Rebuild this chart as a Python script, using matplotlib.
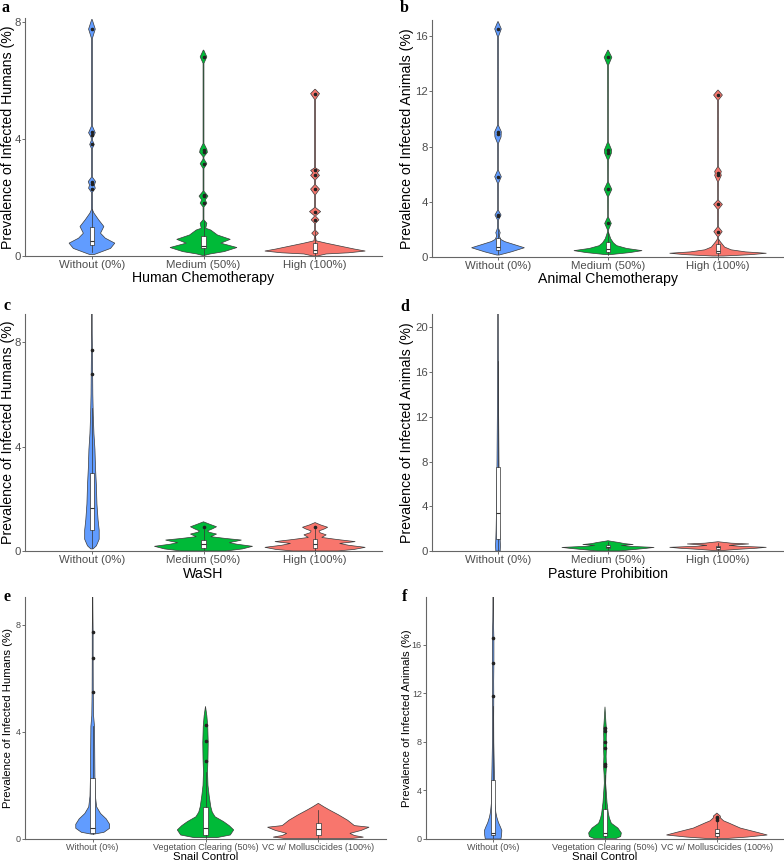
import matplotlib
matplotlib.use('Agg')
import matplotlib.pyplot as plt
import numpy as np

plt.rcParams['font.family'] = ['Liberation Sans', 'DejaVu Sans']

W, H = 784, 861
COLORS = ['#619CFF', '#00BA38', '#F8766D']

# ---- data: violin outlines (value, half-width), box stats, outliers ----
LAB_CHEMO = ['Without (0%)', 'Medium (50%)', 'High (100%)']
LAB_SNAIL = ['Without (0%)', 'Vegetation Clearing (50%)', 'VC w/ Molluscicides (100%)']

A_Y = [[0.05, 0.15, 0.26, 0.44, 0.61, 0.78, 1.01, 1.24, 1.47, 1.58, 2.18, 2.32, 2.43, 2.55, 2.7,
        3.68, 3.82, 3.95, 4.05, 4.22, 4.45, 7.45, 7.77, 8.1],
       [0.02, 0.07, 0.15, 0.29, 0.44, 0.57, 0.72, 0.89, 0.95, 1.12, 1.24, 1.68, 1.81, 1.92, 2.05, 2.22,
        3.0, 3.16, 3.32, 3.4, 3.55, 3.65, 3.85, 6.6, 6.82, 7.05],
       [0.0, 0.07, 0.11, 0.17, 0.24, 0.32, 0.44, 0.52, 0.68, 0.78, 0.88, 1.12, 1.24, 1.36, 1.38, 1.52, 1.66,
        2.1, 2.29, 2.44, 2.61, 2.76, 2.85, 2.93, 3.02, 5.36, 5.56, 5.71]]
A_W = [[0.02, 0.09, 0.167, 0.205, 0.12, 0.077, 0.107, 0.06, 0.018, 0.005, 0.004, 0.03, 0.022, 0.033, 0.004,
        0.004, 0.02, 0.006, 0.006, 0.03, 0.004, 0.004, 0.03, 0.002],
       [0.01, 0.06, 0.185, 0.3, 0.155, 0.24, 0.125, 0.065, 0.02, 0.03, 0.004, 0.004, 0.03, 0.015, 0.04, 0.004,
        0.004, 0.03, 0.004, 0.004, 0.035, 0.03, 0.004, 0.004, 0.03, 0.002],
       [0.02, 0.1, 0.3, 0.45, 0.35, 0.25, 0.1, 0.01, 0.004, 0.03, 0.004, 0.004, 0.035, 0.006, 0.006, 0.05, 0.004,
        0.004, 0.04, 0.004, 0.004, 0.04, 0.02, 0.04, 0.004, 0.004, 0.04, 0.002]]
A_BOX = [(0.12, 0.38, 0.53, 1.01, 1.6), (0.03, 0.27, 0.35, 0.69, 1.2), (0.02, 0.1, 0.2, 0.45, 0.85)]
A_OUT = [[2.29, 2.45, 2.52, 3.84, 4.16, 4.25, 7.77], [1.81, 2.05, 2.1, 3.16, 3.55, 3.62, 6.83],
         [1.24, 1.52, 2.29, 2.76, 2.93, 5.56]]

B_Y = [[0.12, 0.35, 0.65, 0.9, 1.1, 1.26, 1.5, 1.75, 1.9, 2.1, 2.66, 3.03, 3.39, 5.33, 5.81, 6.3,
        8.23, 8.7, 9.08, 9.57, 15.98, 16.54, 17.07],
       [0.15, 0.3, 0.44, 0.6, 0.8, 1.0, 1.3, 1.6, 1.8, 1.94, 2.42, 2.9, 4.36, 4.89, 5.45,
        7.02, 7.5, 7.75, 8.35, 13.9, 14.48, 15.0],
       [0.05, 0.15, 0.25, 0.35, 0.5, 0.7, 0.9, 1.1, 1.3, 1.45, 1.82, 2.18, 3.44, 3.8, 4.12,
        5.45, 5.9, 6.05, 6.2, 6.54, 11.37, 11.74, 12.1]]
B_W = [[0.01, 0.12, 0.24, 0.14, 0.06, 0.025, 0.012, 0.02, 0.012, 0.004, 0.004, 0.028, 0.002, 0.004, 0.03, 0.002,
        0.004, 0.028, 0.03, 0.002, 0.004, 0.03, 0.002],
       [0.02, 0.2, 0.31, 0.17, 0.08, 0.05, 0.025, 0.012, 0.004, 0.004, 0.03, 0.002, 0.004, 0.035, 0.002,
        0.004, 0.03, 0.033, 0.002, 0.004, 0.035, 0.002],
       [0.05, 0.3, 0.44, 0.25, 0.12, 0.06, 0.04, 0.02, 0.004, 0.004, 0.038, 0.002, 0.004, 0.04, 0.002,
        0.004, 0.03, 0.025, 0.03, 0.002, 0.004, 0.04, 0.002]]
B_BOX = [(0.2, 0.49, 0.73, 1.34, 2.0), (0.15, 0.33, 0.55, 1.05, 1.8), (0.05, 0.25, 0.42, 0.9, 1.3)]
B_OUT = [[2.95, 3.05, 5.81, 8.9, 9.08, 16.54], [2.42, 4.89, 7.5, 7.75, 14.48], [1.82, 3.8, 5.9, 6.1, 11.74]]

C_Y = [[0.08, 0.2, 0.45, 0.8, 1.2, 1.8, 2.5, 3.2, 3.9, 4.5, 5.2, 6.0, 7.0, 7.8, 8.5, 9.2],
       [0.0, 0.08, 0.18, 0.26, 0.32, 0.38, 0.42, 0.48, 0.55, 0.65, 0.72, 0.77, 0.85, 0.93, 1.02, 1.12],
       [0.0, 0.06, 0.14, 0.22, 0.29, 0.36, 0.44, 0.52, 0.62, 0.7, 0.77, 0.84, 0.91, 1.0, 1.09]]
C_W = [[0.01, 0.04, 0.065, 0.065, 0.055, 0.045, 0.04, 0.032, 0.027, 0.018, 0.012, 0.008, 0.006, 0.004, 0.002, 0.001],
       [0.2, 0.35, 0.44, 0.3, 0.23, 0.3, 0.34, 0.2, 0.065, 0.117, 0.05, 0.036, 0.08, 0.117, 0.06, 0.0],
       [0.2, 0.35, 0.45, 0.3, 0.22, 0.36, 0.2, 0.06, 0.1, 0.045, 0.035, 0.08, 0.113, 0.05, 0.0]]
C_BOX = [(0.1, 0.81, 1.64, 2.98, 5.5), (0.0, 0.13, 0.27, 0.42, 0.85), (0.0, 0.13, 0.27, 0.45, 0.85)]
C_OUT = [[6.77, 7.7], [0.93], [0.92]]

D_Y = [[0.0, 0.5, 1.0, 2.0, 4.0, 8.0, 12.0, 16.0, 20.0, 21.5],
       [0.0, 0.1, 0.22, 0.32, 0.42, 0.5, 0.58, 0.66, 0.76, 0.85, 0.92],
       [0.05, 0.15, 0.25, 0.33, 0.42, 0.5, 0.58, 0.63, 0.7, 0.83]]
D_W = [[0.02, 0.022, 0.02, 0.017, 0.013, 0.009, 0.006, 0.004, 0.002, 0.001],
       [0.1, 0.2, 0.33, 0.42, 0.2, 0.12, 0.23, 0.15, 0.1, 0.04, 0.0],
       [0.05, 0.18, 0.35, 0.44, 0.2, 0.1, 0.2, 0.28, 0.12, 0.0]]
D_BOX = [(0.0, 1.1, 3.38, 7.55, 17.0), (0.0, 0.25, 0.38, 0.5, 0.8), (0.05, 0.22, 0.35, 0.48, 0.75)]
D_OUT = [[], [], []]

E_Y = [[0.18, 0.25, 0.4, 0.55, 0.75, 0.95, 1.2, 1.6, 2.3, 3.3, 4.2, 4.6, 5.5, 6.7, 7.7, 8.5, 9.1],
       [0.05, 0.15, 0.34, 0.5, 0.65, 0.83, 1.0, 1.2, 1.6, 2.0, 2.5, 3.0, 3.6, 4.2, 4.6, 4.95],
       [0.02, 0.07, 0.13, 0.21, 0.32, 0.44, 0.5, 0.7, 0.9, 1.08, 1.2, 1.33]]
E_W = [[0.01, 0.1, 0.15, 0.15, 0.12, 0.07, 0.035, 0.024, 0.02, 0.018, 0.016, 0.008, 0.005, 0.004, 0.004, 0.002, 0.001],
       [0.1, 0.22, 0.25, 0.21, 0.16, 0.085, 0.06, 0.047, 0.033, 0.022, 0.018, 0.022, 0.024, 0.02, 0.012, 0.0],
       [0.3, 0.4, 0.32, 0.28, 0.38, 0.45, 0.32, 0.26, 0.18, 0.1, 0.05, 0.0]]
E_BOX = [(0.2, 0.21, 0.4, 2.29, 4.2), (0.05, 0.15, 0.4, 1.2, 2.5), (0.05, 0.15, 0.37, 0.59, 1.1)]
E_OUT = [[5.5, 6.77, 7.71], [2.91, 3.66, 4.25], []]

F_Y = [[0.0, 0.3, 0.7, 1.0, 1.35, 1.8, 2.2, 3.0, 4.0, 5.0, 6.5, 8.0, 10.0, 11.7, 13.0, 14.5, 16.5, 18.0, 20.0],
       [0.05, 0.2, 0.5, 0.9, 1.3, 1.7, 2.1, 3.0, 3.8, 4.6, 5.3, 6.0, 6.8, 7.5, 8.3, 9.0, 9.8, 10.9],
       [0.05, 0.16, 0.33, 0.55, 0.9, 1.32, 1.5, 1.73, 1.9, 2.14]]
F_W = [[0.07, 0.075, 0.078, 0.065, 0.048, 0.033, 0.024, 0.015, 0.013, 0.012, 0.009, 0.006, 0.005, 0.006, 0.005,
        0.007, 0.007, 0.003, 0.001],
       [0.1, 0.14, 0.146, 0.116, 0.057, 0.04, 0.03, 0.018, 0.012, 0.006, 0.008, 0.013, 0.01, 0.013, 0.011, 0.013,
        0.007, 0.0],
       [0.1, 0.27, 0.45, 0.36, 0.21, 0.107, 0.06, 0.033, 0.03, 0.0]]
F_BOX = [(0.1, 0.35, 0.49, 4.88, 11.0), (0.05, 0.21, 0.49, 2.47, 5.3), (0.05, 0.21, 0.49, 0.82, 1.5)]
F_OUT = [[11.75, 14.5, 16.56], [6.0, 6.15, 7.5, 8.0, 8.9, 9.15], [1.6, 1.75, 1.85]]

HUM = 'Prevalence of Infected Humans (%)'
ANI = 'Prevalence of Infected Animals (%)'

# letter, pixel box (l, r, t, b), ymax, yticks, xlabel, ylabel, ticklabels, data, small fonts,
# letter position, ylabel centre x (px), xlabel centre y (px)
panels = [
    ('a', (25, 382, 18, 256), 8.15, [0, 4, 8], 'Human Chemotherapy', HUM, LAB_CHEMO, (A_Y, A_W, A_BOX, A_OUT), False, (2, 11.5), 8.5, 278),
    ('b', (432, 784, 20, 256.7), 17.19, [0, 4, 8, 12, 16], 'Animal Chemotherapy', ANI, LAB_CHEMO, (B_Y, B_W, B_BOX, B_OUT), False, (400, 12.5), 407.5, 279),
    ('c', (25, 382, 314, 551), 9.09, [0, 4, 8], 'WaSH', HUM, LAB_CHEMO, (C_Y, C_W, C_BOX, C_OUT), False, (3, 310), 8.5, 573.5),
    ('d', (432, 784, 314, 551), 21.2, [0, 4, 8, 12, 16, 20], 'Pasture Prohibition', ANI, LAB_CHEMO, (D_Y, D_W, D_BOX, D_OUT), False, (400, 311), 407.5, 573.5),
    ('e', (25, 386, 597, 839), 9.03, [0, 4, 8], 'Snail Control', HUM, LAB_SNAIL, (E_Y, E_W, E_BOX, E_OUT), True, (3, 601), 8, 856.5),
    ('f', (426, 784, 597, 839), 19.95, [0, 4, 8, 12, 16], 'Snail Control', ANI, LAB_SNAIL, (F_Y, F_W, F_BOX, F_OUT), True, (402, 601), 406.5, 856.5),
]

fig = plt.figure(figsize=(W / 100, H / 100), dpi=100)

for letter, (l, r, t, b), ymax, yt, xl, yl, labs, (VY, VW, BOX, OUT), small, (lx, ly), ylx, xly in panels:
    ax = fig.add_axes([l / W, 1 - b / H, (r - l) / W, (b - t) / H])
    for i in range(3):
        x = i + 1
        y = np.array(VY[i])
        w = np.array(VW[i])
        xs = np.concatenate([x - w, (x + w)[::-1]])
        ys = np.concatenate([y, y[::-1]])
        ax.fill(xs, ys, facecolor=COLORS[i], edgecolor='#3a3a3a', linewidth=0.5, zorder=2)
    stats = []
    for i in range(3):
        lo, q1, med, q3, hi = BOX[i]
        stats.append(dict(whislo=lo, q1=q1, med=med, q3=q3, whishi=hi, fliers=OUT[i]))
    ax.bxp(stats, positions=[1, 2, 3], widths=0.04, patch_artist=True, showcaps=False,
           boxprops=dict(facecolor='white', edgecolor='#333333', linewidth=0.5),
           medianprops=dict(color='#333333', linewidth=0.8),
           whiskerprops=dict(color='#333333', linewidth=0.5),
           flierprops=dict(marker='o', markersize=1.6, markerfacecolor='#222222',
                           markeredgecolor='#222222', linestyle='none'),
           zorder=3)
    ax.set_xlim(0.4, 3.6)
    ax.set_ylim(0, ymax)
    ax.set_xticks([1, 2, 3])
    tfs = 6.5 if small else 8.2
    lfs = 8.2 if small else 10.2
    ax.set_xticklabels(labs, fontsize=tfs, color='#4d4d4d')
    ax.set_yticks(yt)
    ax.set_yticklabels([str(v) for v in yt], fontsize=tfs, color='#4d4d4d')
    ax.tick_params(length=2, width=0.6, color='#555555', pad=1)
    for s in ['top', 'right']:
        ax.spines[s].set_visible(False)
    for s in ['left', 'bottom']:
        ax.spines[s].set_color('#666666')
        ax.spines[s].set_linewidth(0.8)
    ax.set_xlabel(xl, fontsize=lfs, va='center')
    ax.set_ylabel(yl, fontsize=lfs, va='center')
    ax.xaxis.set_label_coords(0.5, (b - xly) / (b - t))
    ax.yaxis.set_label_coords((ylx - l) / (r - l), 0.5)
    fig.text(lx / W, 1 - ly / H, letter, fontsize=11.5, fontweight='bold',
             family='Liberation Serif', ha='left', va='baseline')

fig.savefig('out.png', dpi=100)
